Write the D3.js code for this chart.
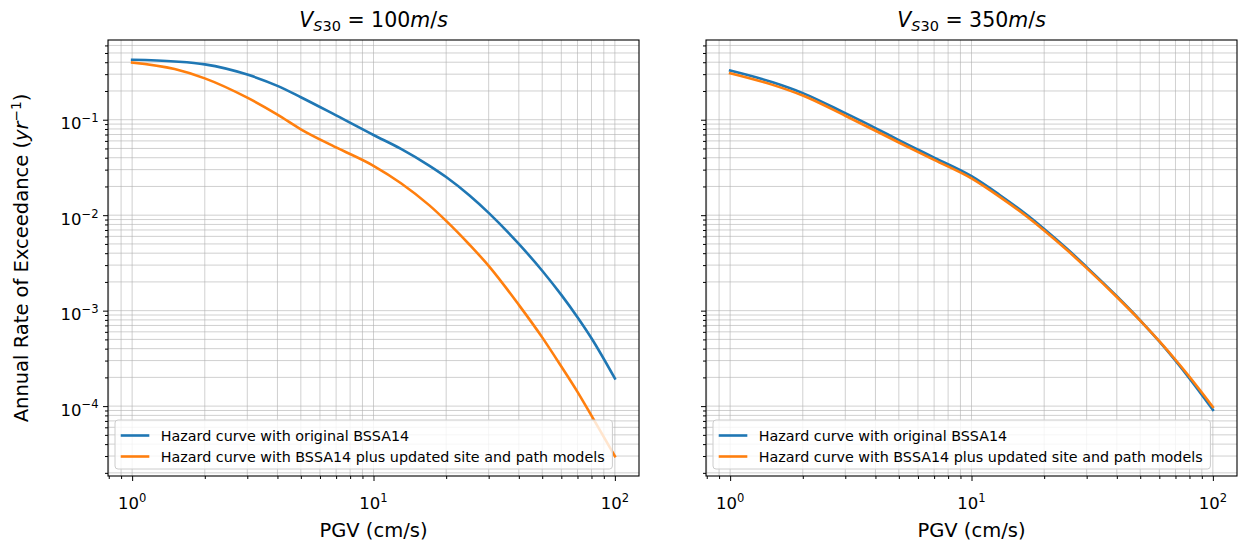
<!DOCTYPE html>
<html>
<head>
<meta charset="utf-8">
<script src="https://cdn.jsdelivr.net/npm/d3@7"></script>
<style>
  body { margin: 0; background: #fff; }
  text { font-family: "DejaVu Sans", sans-serif; fill: #000; }
</style>
</head>
<body>
<svg id="chart" width="1241" height="545"></svg>
<script>
// PGV levels (cm/s) at which the hazard curves are evaluated
const pgv = [1, 1.5, 2, 3, 4, 5, 7, 10, 13, 17, 20, 25, 30, 40, 50, 60, 70, 80, 100];

// Annual rate of exceedance, Vs30 = 100 m/s
const rateOriginalVs100 = [0.424, 0.407, 0.380, 0.297, 0.226, 0.172, 0.111, 0.0692, 0.0495, 0.0331,
  0.0251, 0.01607, 0.01057, 0.00500, 0.00262, 0.001462, 0.000853, 0.000514, 0.000195];
const rateUpdatedVs100 = [0.397, 0.339, 0.271, 0.170, 0.113, 0.0794, 0.0513, 0.0329, 0.02163, 0.01274,
  0.00871, 0.00490, 0.00295, 0.00115, 0.000525, 0.000260, 0.000141, 0.0000794, 0.0000299];

// Annual rate of exceedance, Vs30 = 350 m/s
const rateOriginalVs350 = [0.327, 0.2466, 0.190, 0.1170, 0.0817, 0.0611, 0.0401, 0.0256, 0.01648, 0.01002,
  0.00718, 0.00440, 0.00286, 0.001416, 0.000793, 0.000475, 0.000299, 0.000195, 0.0000914];
const rateUpdatedVs350 = [0.307, 0.2317, 0.179, 0.1100, 0.0767, 0.0577, 0.0380, 0.0243, 0.01574, 0.00962,
  0.00692, 0.00426, 0.00279, 0.00139, 0.000787, 0.000479, 0.000306, 0.000203, 0.0000980];

const panelVs30 = ["100", "350"];
const seriesNames = [
  "Hazard curve with original BSSA14",
  "Hazard curve with BSSA14 plus updated site and path models"
];
const seriesColors = ["#1f77b4", "#ff7f0e"];
const xMajorExponents = [0, 1, 2];
const yMajorExponents = [-4, -3, -2, -1];

const panels = [
  { vs: panelVs30[0], series: [rateOriginalVs100, rateUpdatedVs100], x0: 108, x1: 639, showYLabels: true },
  { vs: panelVs30[1], series: [rateOriginalVs350, rateUpdatedVs350], x0: 706, x1: 1237, showYLabels: false }
];

const plotTop = 40, plotBottom = 476;
const svg = d3.select("#chart");

// log-axis limits with a 5% margin on each side (shared y across panels)
function paddedLogDomain(values) {
  const lo = Math.log10(d3.min(values)), hi = Math.log10(d3.max(values));
  const pad = (hi - lo) * 0.05;
  return [Math.pow(10, lo - pad), Math.pow(10, hi + pad)];
}
const xDomain = paddedLogDomain(pgv);
const yDomain = paddedLogDomain(panels.flatMap(p => p.series.flat()));

function logTicks(domain) {
  const major = [], minor = [];
  const e0 = Math.floor(Math.log10(domain[0])), e1 = Math.ceil(Math.log10(domain[1]));
  for (let e = e0; e <= e1; e++) {
    for (let m = 1; m <= 9; m++) {
      const v = m * Math.pow(10, e);
      if (v < domain[0] * 0.9999 || v > domain[1] * 1.0001) continue;
      (m === 1 ? major : minor).push(v);
    }
  }
  return { major, minor };
}
const xT = logTicks(xDomain), yT = logTicks(yDomain);

function powLabel(sel, exp) {
  sel.append("tspan").text("10");
  sel.append("tspan").attr("font-size", "0.7em").attr("dy", "-0.62em")
    .text(exp < 0 ? "\u2212" + (-exp) : String(exp));
}

panels.forEach((p, pi) => {
  const x = d3.scaleLog().domain(xDomain).range([p.x0, p.x1]);
  const y = d3.scaleLog().domain(yDomain).range([plotBottom, plotTop]);
  const g = svg.append("g");
  const clipId = "clip" + pi;
  svg.append("clipPath").attr("id", clipId).append("rect")
    .attr("x", p.x0).attr("y", plotTop).attr("width", p.x1 - p.x0).attr("height", plotBottom - plotTop);

  // grid (major and minor)
  const grid = g.append("g").attr("stroke", "#b0b0b0").attr("stroke-opacity", 0.6).attr("stroke-width", 1);
  xT.major.concat(xT.minor).forEach(v => {
    grid.append("line").attr("x1", x(v)).attr("x2", x(v)).attr("y1", plotTop).attr("y2", plotBottom);
  });
  yT.major.concat(yT.minor).forEach(v => {
    grid.append("line").attr("y1", y(v)).attr("y2", y(v)).attr("x1", p.x0).attr("x2", p.x1);
  });

  // hazard curves
  const line = d3.line().x((d, i) => x(pgv[i])).y(d => y(d)).curve(d3.curveMonotoneX);
  p.series.forEach((s, si) => {
    g.append("path").datum(s).attr("d", line).attr("fill", "none")
      .attr("stroke", seriesColors[si]).attr("stroke-width", 2.6)
      .attr("stroke-linecap", "square").attr("clip-path", `url(#${clipId})`);
  });

  // axes ticks
  const ax = g.append("g").attr("transform", `translate(0,${plotBottom})`);
  ax.call(d3.axisBottom(x).tickValues(xT.major).tickSize(5).tickFormat(""));
  ax.append("g").call(d3.axisBottom(x).tickValues(xT.minor).tickSize(3).tickFormat(""));
  const ay = g.append("g").attr("transform", `translate(${p.x0},0)`);
  ay.call(d3.axisLeft(y).tickValues(yT.major).tickSize(5).tickFormat(""));
  ay.append("g").call(d3.axisLeft(y).tickValues(yT.minor).tickSize(3).tickFormat(""));
  g.selectAll(".domain").remove();
  g.selectAll(".tick line").attr("stroke", "#000").attr("stroke-width", 1);

  // x tick labels
  xMajorExponents.forEach(e => {
    const t = g.append("text").attr("x", x(Math.pow(10, e))).attr("y", 509)
      .attr("text-anchor", "middle").attr("font-size", 16.5);
    powLabel(t, e);
  });
  // y tick labels
  if (p.showYLabels) {
    yMajorExponents.forEach(e => {
      const t = g.append("text").attr("x", p.x0 - 9.5).attr("y", y(Math.pow(10, e)) + 9.5)
        .attr("text-anchor", "end").attr("font-size", 16.5);
      powLabel(t, e);
    });
  }

  // frame
  g.append("rect").attr("x", p.x0).attr("y", plotTop).attr("width", p.x1 - p.x0).attr("height", plotBottom - plotTop)
    .attr("fill", "none").attr("stroke", "#000").attr("stroke-width", 1.1);

  // title
  const cx = (p.x0 + p.x1) / 2;
  const tt = g.append("text").attr("x", cx).attr("y", 27).attr("text-anchor", "middle").attr("font-size", 20.5);
  tt.append("tspan").attr("font-style", "italic").text("V");
  tt.append("tspan").attr("font-size", 14.5).attr("dy", 4).attr("font-style", "italic").text("S");
  tt.append("tspan").attr("font-size", 14.5).text("30");
  tt.append("tspan").attr("dy", -4).text(" = " + p.vs);
  tt.append("tspan").attr("font-style", "italic").text("m");
  tt.append("tspan").text("/");
  tt.append("tspan").attr("font-style", "italic").text("s");

  // x axis label
  g.append("text").attr("x", cx).attr("y", 537).attr("text-anchor", "middle").attr("font-size", 19.5)
    .text("PGV (cm/s)");

  // legend
  const fs = 14.3, pad = 0.4 * fs, handleLen = 2 * fs, textPad = 0.8 * fs, rowGap = 21;
  const lx = p.x0 + 7, lyBottom = plotBottom - 7;
  const leg = g.append("g");
  const box = leg.append("rect").attr("rx", 3).attr("ry", 3)
    .attr("fill", "#fff").attr("fill-opacity", 0.8).attr("stroke", "#cccccc").attr("stroke-width", 1);
  const legH = 49;
  const ly = lyBottom - legH;
  let maxW = 0;
  seriesNames.forEach((name, si) => {
    const rowY = ly + 15.5 + si * rowGap;
    leg.append("line").attr("x1", lx + pad).attr("x2", lx + pad + handleLen)
      .attr("y1", rowY).attr("y2", rowY).attr("stroke", seriesColors[si]).attr("stroke-width", 2.6);
    const t = leg.append("text").attr("x", lx + pad + handleLen + textPad).attr("y", rowY + 5)
      .attr("font-size", fs).text(name);
    maxW = Math.max(maxW, t.node().getComputedTextLength());
  });
  box.attr("x", lx).attr("y", ly).attr("width", pad + handleLen + textPad + maxW + pad + 2).attr("height", legH);
});

// shared y axis label
svg.append("text").attr("transform", `translate(28,${(plotTop + plotBottom) / 2}) rotate(-90)`)
  .attr("text-anchor", "middle").attr("font-size", 19.5)
  .call(t => {
    t.append("tspan").text("Annual Rate of Exceedance (");
    t.append("tspan").attr("font-style", "italic").text("yr");
    t.append("tspan").attr("font-size", "0.7em").attr("dy", "-0.55em").text("\u22121");
    t.append("tspan").attr("dy", "0.385em").text(")");
  });
</script>
</body>
</html>
